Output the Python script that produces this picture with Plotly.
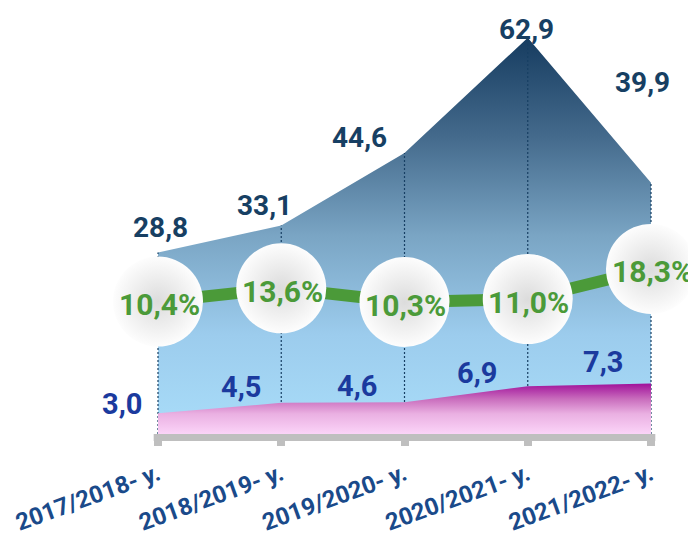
import plotly.graph_objects as go

# ---- data ----
years = ["2017/2018- y.", "2018/2019- y.", "2019/2020- y.", "2020/2021- y.", "2021/2022- y."]
total = [28.8, 33.1, 44.6, 62.9, 39.9]
part = [3.0, 4.5, 4.6, 6.9, 7.3]
share = [10.4, 13.6, 10.3, 11.0, 18.3]

idx = list(range(len(years)))


def fmt(v):
    return f"{v:.1f}".replace(".", ",")


OFF = 8                          # page body margin
W, H = 696 - OFF, 537 - OFF
X0, DX = 158.0 - OFF, 123.25     # pixel of first category, spacing
BASE = 439.0 - OFF               # baseline pixel
PLOT_B = H - BASE
G0 = 348.5 - OFF                 # pixel of 0% on share axis

FONT = "Roboto"
NAVY = "#173f63"
BLUE = "#1b3a9e"
GREEN = "#4b9a39"

fig = go.Figure()

# dark total area
fig.add_trace(go.Scatter(
    x=idx, y=total, mode="lines", fill="tozeroy",
    line=dict(width=0, color="#5f87a6"),
    fillgradient=dict(type="vertical",
                      colorscale=[[0, "#a9ddf9"], [0.25, "#9ccced"], [0.5, "#7aa5c4"],
                                  [0.75, "#446a8c"], [1, "#163c60"]]),
    hoverinfo="skip", showlegend=False,
))

# pink part area
fig.add_trace(go.Scatter(
    x=idx, y=part, mode="lines", fill="tozeroy", yaxis="y2",
    line=dict(width=0, color="#c86bbc"),
    fillgradient=dict(type="vertical",
                      colorscale=[[0, "#fbd4f8"], [0.4, "#eab0e2"], [0.7, "#c86bbc"],
                                  [1, "#a0109a"]]),
    hoverinfo="skip", showlegend=False,
))

# dotted guide lines
gx, gy = [], []
for i, v in zip(idx, total):
    gx += [i, i, None]
    gy += [0, v, None]
fig.add_trace(go.Scatter(
    x=gx, y=gy, mode="lines",
    line=dict(color=NAVY, width=1.2, dash="2px,2px"),
    hoverinfo="skip", showlegend=False,
))

# green share line
fig.add_trace(go.Scatter(
    x=idx, y=share, mode="lines", yaxis="y3",
    line=dict(color=GREEN, width=12),
    hoverinfo="skip", showlegend=False,
))

# circles
fig.add_trace(go.Scatter(
    x=idx, y=share, mode="markers", yaxis="y3",
    marker=dict(size=90, color="#fdfdfd", line=dict(width=0),
                gradient=dict(type="radial", color="#dcdcdc")),
    hoverinfo="skip", showlegend=False,
))

annotations = []
top_off = [(2, -25), (-17, -20), (-45, -16), (-1, -8), (-9, -100)]
for i, v, (dx, dy) in zip(idx, total, top_off):
    annotations.append(dict(x=i, y=v, xref="x", yref="y", text=fmt(v), showarrow=False,
                            xshift=dx, yshift=-dy,
                            font=dict(family=FONT, size=28, color=NAVY, weight=700)))
part_off = [(-36, -9), (-40, -16), (-48, -16), (-51, -13), (-48, -21)]
for i, v, (dx, dy) in zip(idx, part, part_off):
    annotations.append(dict(x=i, y=v, xref="x", yref="y2", text=fmt(v), showarrow=False,
                            xshift=dx, yshift=-dy,
                            font=dict(family=FONT, size=29, color=BLUE, weight=700)))
for i, v in zip(idx, share):
    annotations.append(dict(x=i, y=v, xref="x", yref="y3", text=fmt(v) + "%", showarrow=False,
                            xshift=1, yshift=-3,
                            font=dict(family=FONT, size=30, color=GREEN, weight=700)))

shapes = [dict(type="rect", xref="x", yref="paper", x0=-0.035, x1=len(idx) - 1 + 0.035,
               y0=-7 / BASE, y1=0, fillcolor="#bfbfbf", line=dict(width=0), layer="above")]

fig.update_layout(
    width=W, height=H,
    margin=dict(l=0, r=0, t=0, b=PLOT_B),
    paper_bgcolor="white", plot_bgcolor="white",
    xaxis=dict(range=[-X0 / DX, (W - X0) / DX], tickvals=idx, ticktext=years,
               tickangle=-20, ticks="outside", ticklen=11, tickwidth=8,
               tickcolor="#bfbfbf", showgrid=False, zeroline=False, showline=False,
               ticklabelstandoff=5,
               tickfont=dict(family=FONT, size=24, color="#1a4a8a", weight=700)),
    yaxis=dict(range=[0, BASE / 6.374], visible=False),
    yaxis2=dict(range=[0, BASE / 7.0], visible=False, overlaying="y"),
    yaxis3=dict(range=[-(BASE - G0) / 4.18, G0 / 4.18], visible=False, overlaying="y"),
    annotations=annotations,
    shapes=shapes,
    showlegend=False,
)

fig.write_html("out.html")
